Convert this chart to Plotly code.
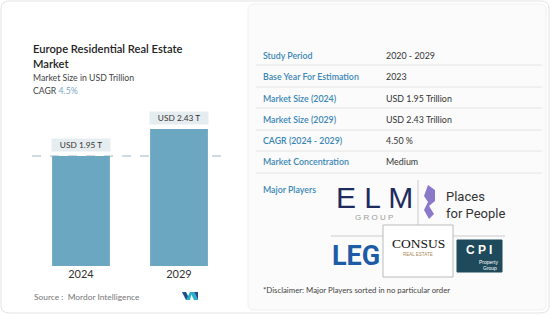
import plotly.graph_objects as go

W, H = 550, 315

# ---- data ----
years = ["2024", "2029"]
market_size = [1.95, 2.43]
bar_labels = ["USD 1.95 T", "USD 2.43 T"]
title_lines = ["Europe Residential Real Estate", "Market"]
subtitle = "Market Size in USD Trillion"
cagr_label = "CAGR"
cagr_value = "4.5%"
source_text = "Source :  Mordor Intelligence"
row_labels = ["Study Period", "Base Year For Estimation", "Market Size (2024)",
              "Market Size (2029)", "CAGR (2024 - 2029)", "Market Concentration"]
row_values = ["2020 - 2029", "2023", "USD 1.95 Trillion", "USD 2.43 Trillion",
              "4.50 %", "Medium"]
players_label = "Major Players"
disclaimer = "*Disclaimer: Major Players sorted in no particular order"

FONT = "Lato"


def px(x):
    return x / W


def py(y):
    return 1 - y / H


fig = go.Figure()
fig.add_trace(go.Bar(
    x=years, y=market_size,
    marker=dict(color="#6ca7c1", line=dict(width=0)),
    hoverinfo="skip",
))

annotations = []
shapes = []


def text(x, y, s, size, color, anchor="left", weight="normal", family=FONT, yanchor="middle", **kw):
    annotations.append(dict(
        x=px(x), y=py(y), xref="paper", yref="paper", text=s, showarrow=False,
        xanchor=anchor, yanchor=yanchor,
        font=dict(size=size, color=color, family=family, weight=weight), **kw))


def rrect(x0, y0, x1, y1, r, line="#e3e3e3", fill="rgba(0,0,0,0)", width=1):
    X0, X1 = px(x0), px(x1)
    Y0, Y1 = py(y0), py(y1)
    rx, ry = r / W, r / H
    path = (f"M {X0+rx},{Y0} L {X1-rx},{Y0} Q {X1},{Y0} {X1},{Y0-ry} "
            f"L {X1},{Y1+ry} Q {X1},{Y1} {X1-rx},{Y1} L {X0+rx},{Y1} "
            f"Q {X0},{Y1} {X0},{Y1+ry} L {X0},{Y0-ry} Q {X0},{Y0} {X0+rx},{Y0} Z")
    shapes.append(dict(type="path", xref="paper", yref="paper", path=path,
                       line=dict(color=line, width=width), fillcolor=fill, layer="below"))


def rect(x0, y0, x1, y1, line="#bbbbbb", fill="white", width=1, layer="above"):
    shapes.append(dict(type="rect", xref="paper", yref="paper",
                       x0=px(x0), x1=px(x1), y0=py(y1), y1=py(y0),
                       line=dict(color=line, width=width), fillcolor=fill, layer=layer))


def hline(x0, x1, y, color="#e4e4e4", width=1, dash="solid"):
    shapes.append(dict(type="line", xref="paper", yref="paper",
                       x0=px(x0), x1=px(x1), y0=py(y), y1=py(y),
                       line=dict(color=color, width=width, dash=dash)))


def vline(x, y0, y1, color="#cccccc", width=1):
    shapes.append(dict(type="line", xref="paper", yref="paper",
                       x0=px(x), x1=px(x), y0=py(y0), y1=py(y1),
                       line=dict(color=color, width=width)))


def poly(pts, fill):
    path = "M " + " L ".join(f"{px(a)},{py(b)}" for a, b in pts) + " Z"
    shapes.append(dict(type="path", xref="paper", yref="paper", path=path,
                       line=dict(width=0), fillcolor=fill))


# outer card + right panel
rrect(1, 1, 549, 313, 8, line="#e2e2e2")
rrect(248, 4, 546, 310, 6, line="#efefef", fill="rgba(248,248,248,0.6)")

# left header
text(31, 40, "<br>".join(title_lines), 11.2, "#222222", weight=600, yanchor="top",
     align="left")
text(31, 77, subtitle, 8.7, "#444444")
text(31, 90, f"{cagr_label} <span style='color:#7aa7c7'>{cagr_value}</span>", 8.7, "#444444")

# dashed reference line at first bar value
shapes.append(dict(type="line", xref="paper", yref="y", x0=px(32), x1=px(228),
                   y0=market_size[0], y1=market_size[0],
                   line=dict(color="#9db6c4", width=1, dash="dash"), layer="below"))

# bar value labels
for i, (v, lab) in enumerate(zip(market_size, bar_labels)):
    annotations.append(dict(
        x=i, y=v, xref="x", yref="y", text=lab, showarrow=False,
        yanchor="bottom", yshift=4, bgcolor="#e6edf0", borderpad=1,
        width=56, height=10,
        font=dict(size=8.3, color="#333333", family=FONT)))

# source
text(32, 297, source_text, 8.4, "#777777")
# mordor logo
poly([(182, 292), (186, 292), (190, 300), (186, 300)], "#1f4e8c")
poly([(186, 300), (190, 292), (192, 292), (190, 300)], "#2ab0c8")
poly([(190, 292), (194, 292), (198, 300), (194, 300)], "#2ab0c8")
poly([(194, 292), (198, 292), (198, 300)], "#1f4e8c")

# table
row_y = [55, 76, 98, 119, 140, 162]
sep_y = [65, 87, 108, 130, 151, 173]
for lab, val, yy in zip(row_labels, row_values, row_y):
    text(261, yy, lab, 8.8, "#3a86b5", weight=600)
    text(384, yy, val, 8.9, "#333333")
for yy in sep_y:
    hline(256, 542, yy)

# major players
text(261, 189, players_label, 8.8, "#3a86b5", weight=600)

# ELM group
text(374, 197, "E L M", 30, "#1f2a5e", anchor="center", family="Liberation Sans")
text(374, 217, "G R O U P", 8, "#9a9a9a", anchor="center", family="Liberation Sans")
vline(418, 180, 226)
# Places for People
poly([(428, 185), (435, 190), (435, 201), (429, 206), (434, 214), (429, 219),
      (424, 210), (428, 202), (424, 196)], "#8a78c8")
text(444, 196, "Places", 13, "#333333", family="Roboto")
text(444, 213, "for People", 13, "#333333", family="Roboto")

hline(331, 505, 236, color="#cccccc")
# LEG
text(356, 256, "LEG", 27, "#1d5ba6", anchor="center",
     family="Roboto", weight="bold")
# CONSUS
rect(383, 225, 453, 277, line="#bbbbbb", fill="white")
text(418, 243, "CONSUS", 13.5, "#111111", anchor="center", family="Liberation Serif")
text(418, 254, "REAL ESTATE", 4.5, "#a88a55", anchor="center", family="Liberation Sans")
# CPI
rect(457, 240, 502, 272, line="#1f4a5c", fill="#1f4a5c")
text(479, 250, "C P I", 12, "white", anchor="center", family="Liberation Sans", weight="bold")
text(488, 262, "Property", 5, "white", anchor="center", family="Liberation Sans")
text(490, 268, "Group", 5, "white", anchor="center", family="Liberation Sans")

# disclaimer
text(261, 290, disclaimer, 7.8, "#444444")

fig.update_layout(
    width=W, height=H, autosize=False,
    margin=dict(l=0, r=0, t=0, b=0),
    paper_bgcolor="white", plot_bgcolor="rgba(0,0,0,0)",
    showlegend=False, bargap=0.41,
    xaxis=dict(type="category", domain=[px(32), px(228)], range=[-0.5, 1.5],
               showgrid=False, showline=False,
               zeroline=False, ticks="", automargin=False,
               tickfont=dict(size=11, color="#333333", family=FONT),
               fixedrange=True),
    yaxis=dict(domain=[py(266), py(100)], range=[0, 166 / 56.4], visible=False,
               automargin=False, fixedrange=True),
    annotations=annotations, shapes=shapes,
)

fig.write_html("out.html", config={"displayModeBar": False})
